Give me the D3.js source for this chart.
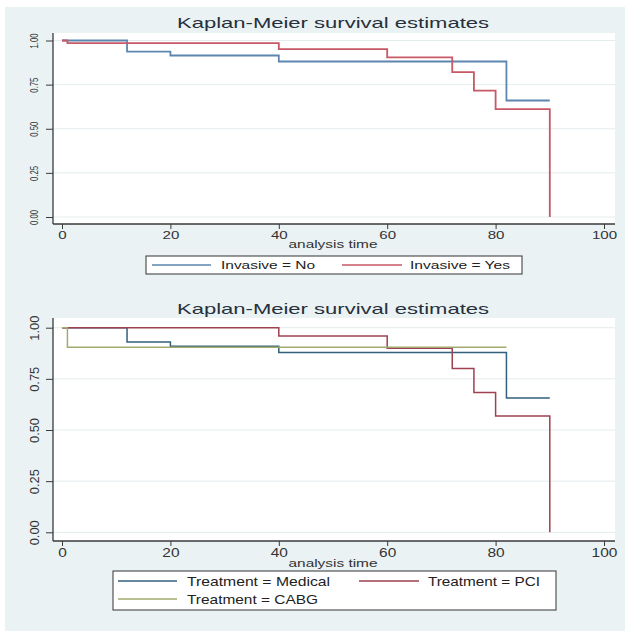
<!DOCTYPE html>
<html><head><meta charset="utf-8">
<script src="https://cdn.jsdelivr.net/npm/d3@7"></script>
<style>html,body{margin:0;padding:0;background:#fff;}svg{display:block;font-family:"Liberation Sans",Arial,sans-serif;}</style>
</head><body>
<script>
// ---- data ----
const titleText = "Kaplan-Meier survival estimates";
const xLabel = "analysis time";
const xTicks = [0, 20, 40, 60, 80, 100];
const yTicks = [0, 0.25, 0.5, 0.75, 1];
const yTickLabels = ["0.00", "0.25", "0.50", "0.75", "1.00"];

const invNoTime = [0, 12, 20, 40, 82, 90];
const invNoSurv = [1, 0.937, 0.915, 0.881, 0.66, 0.66];
const invYesTime = [0, 1, 40, 60, 72, 76, 80, 90];
const invYesSurv = [1, 0.985, 0.951, 0.904, 0.821, 0.716, 0.611, 0];

const medTime = [0, 12, 20, 40, 82, 90];
const medSurv = [1, 0.93, 0.909, 0.879, 0.657, 0.657];
const pciTime = [0, 40, 60, 72, 76, 80, 90];
const pciSurv = [1, 0.959, 0.90, 0.80, 0.683, 0.569, 0];
const cabgTime = [0, 1, 82];
const cabgSurv = [1, 0.905, 0.905];

const topSeries = [
  {name: "Invasive = No", time: invNoTime, surv: invNoSurv, color: "#5d86ae"},
  {name: "Invasive = Yes", time: invYesTime, surv: invYesSurv, color: "#c75866"}
];
const botSeries = [
  {name: "Treatment = Medical", time: medTime, surv: medSurv, color: "#33607f"},
  {name: "Treatment = PCI", time: pciTime, surv: pciSurv, color: "#9e4150"},
  {name: "Treatment = CABG", time: cabgTime, surv: cabgSurv, color: "#a2aa6e"}
];

const W = 625, H = 631;
const svg = d3.select("body").append("svg").attr("width", W).attr("height", H);
svg.append("rect").attr("x", 5).attr("y", 7).attr("width", W - 5).attr("height", H - 7).attr("fill", "#eaf2f3");

function panel(opt) {
  const g = svg.append("g");
  const x = d3.scaleLinear().domain([0, 100]).range([62, 604]);
  const y = d3.scaleLinear().domain([0, 1]).range([opt.y0, opt.y1]);
  g.append("rect").attr("x", 53).attr("y", opt.plotTop).attr("width", 615 - 53).attr("height", opt.axisY - opt.plotTop).attr("fill", "#ffffff");
  g.selectAll(".grid").data(yTicks).join("line")
    .attr("x1", 53).attr("x2", 615).attr("y1", d => y(d)).attr("y2", d => y(d))
    .attr("stroke", "#e4ecee").attr("stroke-width", 1);
  g.append("text").attr("x", 177).attr("y", opt.titleY).attr("font-size", 15).attr("fill", "#26303c")
    .attr("textLength", 312).attr("lengthAdjust", "spacingAndGlyphs").text(titleText);
  const line = d3.line().x(d => x(d[0])).y(d => y(d[1])).curve(d3.curveStepAfter);
  opt.series.forEach(s => {
    const pts = s.time.map((t, i) => [t, s.surv[i]]);
    g.append("path").attr("d", line(pts)).attr("fill", "none").attr("stroke", s.color).attr("stroke-width", opt.lw);
  });
  const xa = g.append("g").attr("transform", `translate(0,${opt.axisY})`)
    .call(d3.axisBottom(x).tickValues(xTicks).tickSize(5).tickFormat(d3.format("d")));
  xa.select(".domain").attr("d", `M53,0H615`).attr("stroke", "#3a3a3a").attr("stroke-width", 1.3);
  xa.selectAll(".tick line").attr("stroke", "#3a3a3a");
  xa.selectAll(".tick text").attr("font-size", opt.xFont).attr("fill", "#333").attr("dy", null).attr("y", opt.xLabelDy)
    .attr("font-family", "'Liberation Sans',Arial,sans-serif")
    .attr("textLength", d => String(d).length * opt.xCharW).attr("lengthAdjust", "spacingAndGlyphs");
  const ya = g.append("g").attr("transform", `translate(53,0)`)
    .call(d3.axisLeft(y).tickValues(yTicks).tickSize(7).tickFormat((d, i) => yTickLabels[i]));
  ya.select(".domain").attr("d", `M0,${opt.plotTop}V${opt.axisY}`).attr("stroke", "#3a3a3a").attr("stroke-width", 1.3);
  ya.selectAll(".tick line").attr("stroke", "#3a3a3a");
  ya.selectAll(".tick text").attr("font-size", opt.yFont).attr("fill", "#333")
    .attr("font-family", "'Liberation Sans',Arial,sans-serif")
    .attr("x", null).attr("dy", null).attr("text-anchor", "middle")
    .attr("y", opt.yFont * 0.35)
    .attr("textLength", opt.yLen).attr("lengthAdjust", "spacingAndGlyphs")
    .attr("transform", `translate(${opt.yLabelX - 53},0) rotate(-90)`);
  g.append("text").attr("x", 333).attr("y", opt.xTitleY).attr("text-anchor", "middle").attr("font-size", opt.xTitleFont)
    .attr("fill", "#333").attr("textLength", 89).attr("lengthAdjust", "spacingAndGlyphs").text(xLabel);
  const L = opt.legend;
  g.append("rect").attr("x", L.x).attr("y", L.y).attr("width", L.w).attr("height", L.h)
    .attr("fill", "#fff").attr("stroke", "#333").attr("stroke-width", 1);
  opt.series.forEach((s, i) => {
    const it = L.items[i];
    g.append("line").attr("x1", it.lx1).attr("x2", it.lx2).attr("y1", it.y).attr("y2", it.y)
      .attr("stroke", s.color).attr("stroke-width", 1.3);
    g.append("text").attr("x", it.tx).attr("y", it.y + L.font * 0.36).attr("font-size", L.font).attr("fill", "#222")
      .attr("textLength", it.tw).attr("lengthAdjust", "spacingAndGlyphs").text(s.name);
  });
}

panel({
  series: topSeries, y0: 217, y1: 40.5, plotTop: 33, axisY: 224, titleY: 28, lw: 1.8,
  xFont: 11, xLabelDy: 15, xCharW: 8.4, yFont: 10, yLabelX: 34, yLen: 15,
  xTitleY: 248, xTitleFont: 11,
  legend: {x: 146, y: 256, w: 376, h: 18, font: 11,
    items: [{lx1: 152, lx2: 211, tx: 221, tw: 94, y: 265},
            {lx1: 342, lx2: 402, tx: 410, tw: 100, y: 265}]}
});
panel({
  series: botSeries, y0: 532.3, y1: 327.7, plotTop: 318, axisY: 541, titleY: 314, lw: 1.5,
  xFont: 12, xLabelDy: 16, xCharW: 8.6, yFont: 12, yLabelX: 35, yLen: 25,
  xTitleY: 567, xTitleFont: 11.5,
  legend: {x: 113, y: 571, w: 443, h: 39, font: 13,
    items: [{lx1: 118, lx2: 177, tx: 187, tw: 143, y: 581},
            {lx1: 359, lx2: 419, tx: 428, tw: 112, y: 581},
            {lx1: 118, lx2: 177, tx: 187, tw: 131, y: 599}]}
});
</script>
</body></html>
